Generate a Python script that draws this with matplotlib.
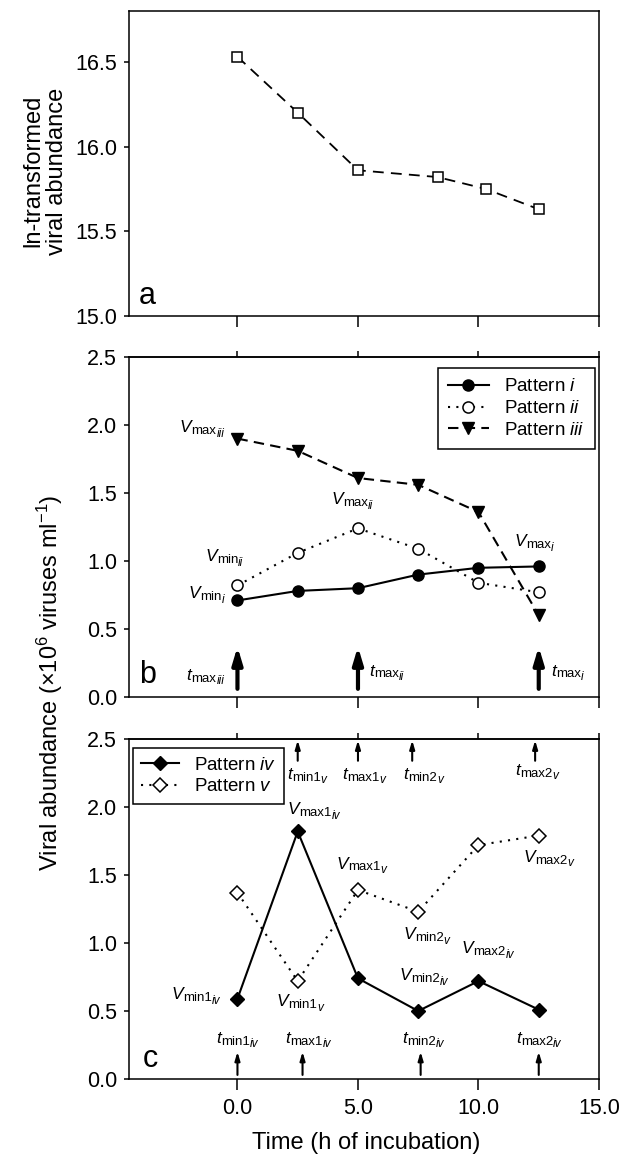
import matplotlib
matplotlib.use("Agg")
import matplotlib.pyplot as plt
from matplotlib.offsetbox import TextArea, HPacker, VPacker, DrawingArea, AnnotationBbox

plt.rcParams['font.family'] = ['Liberation Sans', 'DejaVu Sans']
plt.rcParams['mathtext.fontset'] = 'custom'
plt.rcParams['mathtext.rm'] = 'Liberation Sans'
plt.rcParams['mathtext.it'] = 'Liberation Sans:italic'
plt.rcParams['mathtext.bf'] = 'Liberation Sans:bold'
plt.rcParams['axes.linewidth'] = 1.1

# panel a: ln-transformed viral abundance
time_a = [0, 2.5, 5, 8.3, 10.3, 12.5]
ln_abund = [16.53, 16.20, 15.86, 15.82, 15.75, 15.63]

# panels b and c: viral abundance (x10^6 viruses ml-1)
time_bc = [0, 2.5, 5, 7.5, 10, 12.5]
pat_i = [0.71, 0.78, 0.80, 0.90, 0.95, 0.96]
pat_ii = [0.82, 1.06, 1.24, 1.09, 0.84, 0.77]
pat_iii = [1.90, 1.81, 1.61, 1.56, 1.36, 0.60]
pat_iv = [0.59, 1.82, 0.74, 0.50, 0.72, 0.51]
pat_v = [1.37, 0.72, 1.39, 1.23, 1.72, 1.79]

# times marked with arrows
arrows_b = [0, 5, 12.5]
arrows_c_top = [2.5, 5, 7.25, 12.35]
arrows_c_bot = [0, 2.7, 7.6, 12.5]

xticks = [0, 5, 10, 15]
yticks_a = [15.0, 15.5, 16.0, 16.5]
yticks_bc = [0.0, 0.5, 1.0, 1.5, 2.0, 2.5]

W, H = 623, 1159
fig = plt.figure(figsize=(W / 100, H / 100), dpi=100)


def make_ax(top, bottom):
    ax = fig.add_axes([129 / W, 1 - bottom / H, 470 / W, (bottom - top) / H])
    ax.set_xlim(-4.5, 15)
    ax.set_xticks(xticks)
    ax.tick_params(axis='x', direction='out', length=8, width=1.1,
                   labelbottom=False)
    ax.tick_params(axis='y', direction='out', length=3.5, width=1.1,
                   labelsize=15.5, pad=5)
    return ax


def top_ticks(ax):
    sec = ax.secondary_xaxis('top')
    sec.set_xticks(xticks)
    sec.tick_params(direction='out', length=4, width=1.1, labeltop=False)


def sublabel(ax, x, y, main, sub, subsub, ha='center'):
    # letter with a subscript that has its own subscript (e.g. V max iii)
    specs = [(main, 12.5, 'italic', 0.0), (sub, 9.5, 'normal', 2.0),
             (subsub, 8.5, 'italic', 4.2)]
    boxes = []
    for s, size, style, drop in specs:
        ta = TextArea(s, textprops=dict(fontsize=size, fontstyle=style))
        pad_h = 6 - drop + 0.21 * (12.5 - size)
        boxes.append(VPacker(children=[ta, DrawingArea(0, pad_h)],
                             pad=0, sep=0, align='left'))
    hp = HPacker(children=boxes, align='bottom', pad=0, sep=0)
    frac = {'left': 0.0, 'center': 0.5, 'right': 1.0}[ha]
    ab = AnnotationBbox(hp, (x, y), xycoords='data', box_alignment=(frac, 0.5),
                        frameon=False, pad=0, annotation_clip=False)
    ax.add_artist(ab)


# ---------- panel a ----------
ax1 = make_ax(11, 316)
ax1.plot(time_a, ln_abund, color='k', ls=(0, (6, 4)), lw=1.3,
         marker='s', ms=6.5, mfc='white', mec='k', mew=1.1)
ax1.set_ylim(15.0, 16.8)
ax1.set_yticks(yticks_a)
ax1.set_yticklabels(['%.1f' % v for v in yticks_a])
ax1.text(-4.1, 15.12, 'a', fontsize=22, va='center')

# ---------- panel b ----------
ax2 = make_ax(357, 697)
top_ticks(ax2)
ax2.plot(time_bc, pat_i, color='k', ls='-', lw=1.5, marker='o', ms=8,
         mfc='k', mec='k', label='Pattern $i$')
ax2.plot(time_bc, pat_ii, color='k', ls=(0, (1, 3)), lw=1.5, marker='o',
         ms=8, mfc='white', mec='k', mew=1.1, label='Pattern $ii$')
ax2.plot(time_bc, pat_iii, color='k', ls=(0, (5, 3)), lw=1.5, marker='v',
         ms=8, mfc='k', mec='k', label='Pattern $iii$')
ax2.set_ylim(0, 2.5)
ax2.set_yticks(yticks_bc)
ax2.set_yticklabels(['%.1f' % v for v in yticks_bc])
leg = ax2.legend(loc='upper right', fontsize=13.5, frameon=True,
                 fancybox=False, edgecolor='k', framealpha=1,
                 handlelength=2.2, labelspacing=0.25, borderpad=0.55,
                 borderaxespad=0, bbox_to_anchor=(0.9915, 0.968))
leg.get_frame().set_linewidth(1.1)

for x in arrows_b:
    ax2.annotate('', xy=(x, 0.37), xytext=(x, 0.06),
                 arrowprops=dict(arrowstyle='-|>,head_width=0.3,head_length=1.0',
                                 lw=3, color='k', shrinkA=0, shrinkB=0))

sublabel(ax2, -0.55, 1.95, 'V', 'max', 'iii', ha='right')
sublabel(ax2, 4.75, 1.42, 'V', 'max', 'ii')
sublabel(ax2, 0.25, 1.0, 'V', 'min', 'ii', ha='right')
sublabel(ax2, -0.55, 0.73, 'V', 'min', 'i', ha='right')
sublabel(ax2, 11.5, 1.11, 'V', 'max', 'i', ha='left')
sublabel(ax2, -0.55, 0.13, 't', 'max', 'iii', ha='right')
sublabel(ax2, 5.45, 0.16, 't', 'max', 'ii', ha='left')
sublabel(ax2, 13.0, 0.16, 't', 'max', 'i', ha='left')
ax2.text(-4.1, 0.16, 'b', fontsize=22, va='center')

# ---------- panel c ----------
ax3 = make_ax(739, 1079)
top_ticks(ax3)
ax3.plot(time_bc, pat_iv, color='k', ls='-', lw=1.5, marker='D', ms=7.5,
         mfc='k', mec='k', label='Pattern $iv$')
ax3.plot(time_bc, pat_v, color='k', ls=(0, (1, 3)), lw=1.5, marker='D',
         ms=7.5, mfc='white', mec='k', mew=1.1, label='Pattern $v$')
ax3.set_ylim(0, 2.5)
ax3.set_yticks(yticks_bc)
ax3.set_yticklabels(['%.1f' % v for v in yticks_bc])
ax3.tick_params(axis='x', labelbottom=True, labelsize=15.5, pad=6)
ax3.set_xticklabels(['%.1f' % v for v in xticks])
leg = ax3.legend(loc='upper left', fontsize=13.5, frameon=True,
                 fancybox=False, edgecolor='k', framealpha=1,
                 handlelength=2.0, labelspacing=0.25, borderpad=0.45,
                 borderaxespad=0, bbox_to_anchor=(0.0085, 0.9735))
leg.get_frame().set_linewidth(1.1)

for x in arrows_c_top:
    ax3.annotate('', xy=(x, 2.49), xytext=(x, 2.34),
                 arrowprops=dict(arrowstyle='-|>,head_width=0.15,head_length=0.5',
                                 lw=1.5, color='k', shrinkA=0, shrinkB=0))
for x in arrows_c_bot:
    ax3.annotate('', xy=(x, 0.20), xytext=(x, 0.03),
                 arrowprops=dict(arrowstyle='-|>,head_width=0.15,head_length=0.5',
                                 lw=1.5, color='k', shrinkA=0, shrinkB=0))

sublabel(ax3, 2.87, 2.21, 't', 'min1', 'v')
sublabel(ax3, 5.25, 2.21, 't', 'max1', 'v')
sublabel(ax3, 7.7, 2.21, 't', 'min2', 'v')
sublabel(ax3, 12.4, 2.24, 't', 'max2', 'v')
sublabel(ax3, 3.16, 1.95, 'V', 'max1', 'iv')
sublabel(ax3, 5.14, 1.55, 'V', 'max1', 'v')
sublabel(ax3, 12.9, 1.60, 'V', 'max2', 'v')
sublabel(ax3, 7.83, 1.03, 'V', 'min2', 'v')
sublabel(ax3, 10.4, 0.93, 'V', 'max2', 'iv')
sublabel(ax3, 7.72, 0.73, 'V', 'min2', 'iv')
sublabel(ax3, -0.7, 0.59, 'V', 'min1', 'iv', ha='right')
sublabel(ax3, 2.6, 0.54, 'V', 'min1', 'v')
sublabel(ax3, 0.0, 0.27, 't', 'min1', 'iv')
sublabel(ax3, 2.95, 0.27, 't', 'max1', 'iv')
sublabel(ax3, 7.7, 0.27, 't', 'min2', 'iv')
sublabel(ax3, 12.5, 0.27, 't', 'max2', 'iv')
ax3.text(-3.95, 0.15, 'c', fontsize=22, va='center')

# axis titles
fig.text(45 / W, 1 - 171 / H, 'ln-transformed\nviral abundance', rotation=90,
         ha='center', va='center', fontsize=17, linespacing=1.1)
fig.text(50 / W, 1 - 683 / H, 'Viral abundance (×10$^6$ viruses ml$^{-1}$)',
         rotation=90, ha='center', va='center', fontsize=17)
fig.text(366 / W, 1 - 1143 / H, 'Time (h of incubation)', ha='center',
         va='center', fontsize=17)

fig.savefig('out.png', dpi=100)
